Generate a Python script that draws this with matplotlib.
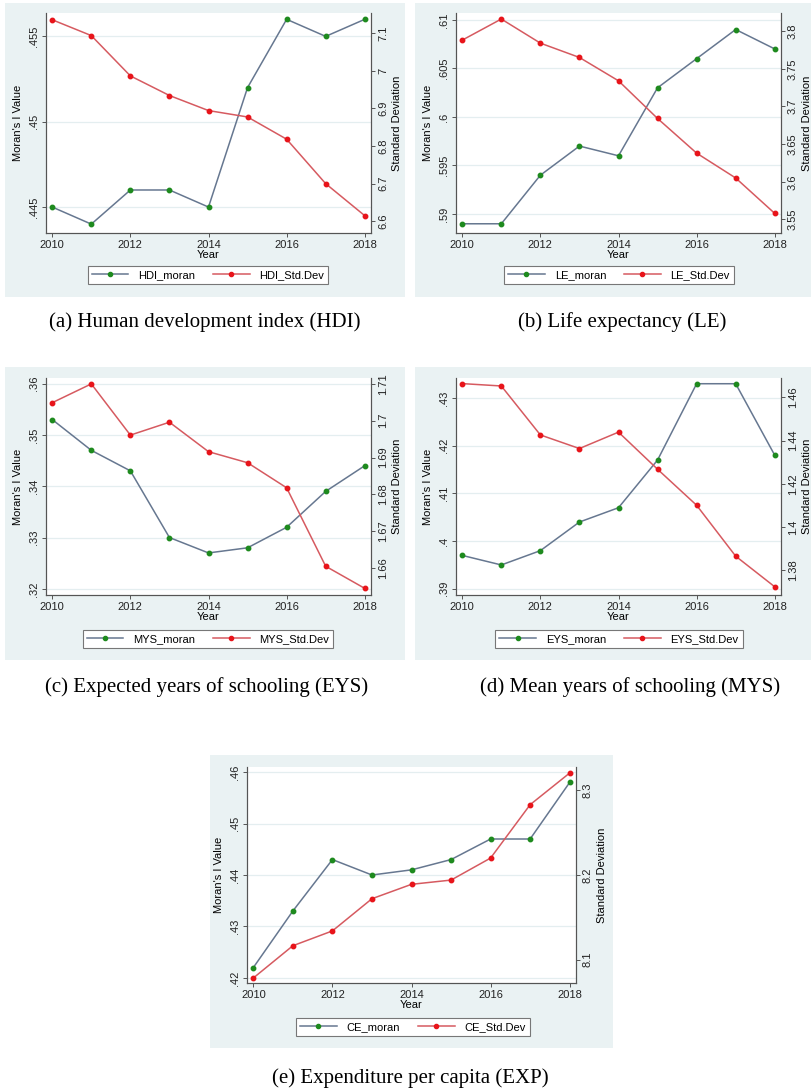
import matplotlib
matplotlib.use('Agg')
import matplotlib.pyplot as plt
from matplotlib.patches import Rectangle
from matplotlib.lines import Line2D

W, H = 812, 1092

years = [2010, 2011, 2012, 2013, 2014, 2015, 2016, 2017, 2018]
x_ticks = [2010, 2012, 2014, 2016, 2018]

hdi_moran = [.445, .444, .446, .446, .445, .452, .456, .455, .456]
hdi_sd = [7.135, 7.093, 6.986, 6.934, 6.894, 6.877, 6.818, 6.700, 6.615]
le_moran = [.589, .589, .594, .597, .596, .603, .606, .609, .607]
le_sd = [3.788, 3.816, 3.784, 3.765, 3.734, 3.684, 3.638, 3.605, 3.558]
mys_moran = [.353, .347, .343, .330, .327, .328, .332, .339, .344]
mys_sd = [1.7049, 1.7100, 1.6961, 1.6996, 1.6916, 1.6886, 1.6818, 1.6605, 1.6545]
eys_moran = [.397, .395, .398, .404, .407, .417, .433, .433, .418]
eys_sd = [1.4664, 1.4653, 1.4426, 1.4363, 1.4439, 1.4267, 1.4100, 1.3864, 1.3722]
ce_moran = [.422, .433, .443, .440, .441, .443, .447, .447, .458]
ce_sd = [8.0784, 8.1165, 8.134, 8.172, 8.189, 8.194, 8.220, 8.283, 8.3204]

# left / right tick values and labels (Stata style, no leading zero)
hdi_lt = [.445, .45, .455]
hdi_ll = ['.445', '.45', '.455']
hdi_rt = [6.6, 6.7, 6.8, 6.9, 7.0, 7.1]
hdi_rl = ['6.6', '6.7', '6.8', '6.9', '7', '7.1']
le_lt = [.59, .595, .6, .605, .61]
le_ll = ['.59', '.595', '.6', '.605', '.61']
le_rt = [3.55, 3.6, 3.65, 3.7, 3.75, 3.8]
le_rl = ['3.55', '3.6', '3.65', '3.7', '3.75', '3.8']
mys_lt = [.32, .33, .34, .35, .36]
mys_ll = ['.32', '.33', '.34', '.35', '.36']
mys_rt = [1.66, 1.67, 1.68, 1.69, 1.70, 1.71]
mys_rl = ['1.66', '1.67', '1.68', '1.69', '1.7', '1.71']
eys_lt = [.39, .40, .41, .42, .43]
eys_ll = ['.39', '.4', '.41', '.42', '.43']
eys_rt = [1.38, 1.40, 1.42, 1.44, 1.46]
eys_rl = ['1.38', '1.4', '1.42', '1.44', '1.46']
ce_lt = [.42, .43, .44, .45, .46]
ce_ll = ['.42', '.43', '.44', '.45', '.46']
ce_rt = [8.1, 8.2, 8.3]
ce_rl = ['8.1', '8.2', '8.3']

BG = '#eaf2f3'
LINE_M = '#667790'
LINE_S = '#d65a60'
MK_M = '#1e8a1e'
MK_S = '#e8141a'
AXC = '#555555'

plt.rcParams['font.family'] = ['Liberation Sans', 'DejaVu Sans']

fig = plt.figure(figsize=(W / 100, H / 100), dpi=100)


def fx(x):
    return x / W


def fy(y):
    return 1 - y / H


def panel(bg, plot, leg_cx, m, s, lyl, ryl, lt, ll, rt, rl, names, caption, cap_xy):
    bx0, by0, bx1, by1 = bg
    fig.patches.append(Rectangle((fx(bx0), fy(by1)), (bx1 - bx0) / W, (by1 - by0) / H,
                                 transform=fig.transFigure, facecolor=BG, edgecolor='none', zorder=-5))
    px0, py0, px1, py1 = plot
    ax = fig.add_axes([fx(px0), fy(py1), (px1 - px0) / W, (py1 - py0) / H])
    ax.set_facecolor('white')
    ax2 = ax.twinx()
    ax.plot(years, m, color=LINE_M, lw=1.1, marker='o', ms=3.2,
            mfc=MK_M, mec=MK_M, zorder=3)
    ax2.plot(years, s, color=LINE_S, lw=1.1, marker='o', ms=3.2,
             mfc=MK_S, mec=MK_S, zorder=3)
    ax.set_xlim(2009.84, 2018.16)
    ax.set_ylim(*lyl)
    ax2.set_ylim(*ryl)
    ax.set_xticks(x_ticks)
    ax.set_yticks(lt)
    ax.set_yticklabels(ll, rotation=90, va='center')
    ax2.set_yticks(rt)
    ax2.set_yticklabels(rl, rotation=90, va='center')
    ax.grid(axis='y', color='#e4eef0', lw=0.9)
    ax.set_axisbelow(True)
    for a in (ax, ax2):
        a.spines['top'].set_visible(False)
        for sp in ('left', 'right', 'bottom'):
            a.spines[sp].set_color(AXC)
            a.spines[sp].set_linewidth(0.8)
        a.tick_params(labelsize=8, colors='#222222', length=3, width=0.7, pad=2)
        a.tick_params(axis='both', color=AXC)
    ax.set_xlabel('Year', fontsize=8, labelpad=0)
    ax.set_ylabel("Moran's I Value", fontsize=8, labelpad=4)
    ax2.set_ylabel('Standard Deviation', fontsize=8, labelpad=3)
    h1 = Line2D([], [], color=LINE_M, lw=1.1, marker='o', ms=3, mfc=MK_M, mec=MK_M)
    h2 = Line2D([], [], color=LINE_S, lw=1.1, marker='o', ms=3, mfc=MK_S, mec=MK_S)
    leg = fig.legend([h1, h2], names, loc='center', ncol=2,
                     bbox_to_anchor=(fx(leg_cx), fy(bg[1] + 272)),
                     fontsize=8, frameon=True, fancybox=False, edgecolor='#777777',
                     facecolor='white', framealpha=1,
                     handlelength=3.3, columnspacing=1.6, handletextpad=0.9,
                     borderpad=0.35, markerscale=1.0)
    leg.get_frame().set_linewidth(0.8)
    fig.text(fx(cap_xy[0]), fy(cap_xy[1]), caption, ha='center', va='center',
             family='Liberation Serif', fontsize=15)


panel((5, 3, 405, 297), (46, 13, 371, 233), 208, hdi_moran, hdi_sd,
      (.44348, .45637), (6.569, 7.153), hdi_lt, hdi_ll, hdi_rt, hdi_rl,
      ['HDI_moran', 'HDI_Std.Dev'], '(a) Human development index (HDI)', (205, 322))
panel((415, 3, 812, 297), (456, 13, 781, 233), 619, le_moran, le_sd,
      (.58805, .6107), (3.532, 3.824), le_lt, le_ll, le_rt, le_rl,
      ['LE_moran', 'LE_Std.Dev'], '(b) Life expectancy (LE)', (622, 322))
panel((5, 367, 405, 660), (46, 378, 371, 595), 208, mys_moran, mys_sd,
      (.3188, .3611), (1.6527, 1.7116), mys_lt, mys_ll, mys_rt, mys_rl,
      ['MYS_moran', 'MYS_Std.Dev'], '(c) Expected years of schooling (EYS)', (207, 687))
panel((415, 367, 812, 660), (456, 378, 781, 595), 619, eys_moran, eys_sd,
      (.3887, .4342), (1.3684, 1.469), eys_lt, eys_ll, eys_rt, eys_rl,
      ['EYS_moran', 'EYS_Std.Dev'], '(d) Mean years of schooling (MYS)', (630, 687))
panel((210, 755, 613, 1048), (247, 767, 576, 983), 413, ce_moran, ce_sd,
      (.419, .461), (8.0725, 8.3275), ce_lt, ce_ll, ce_rt, ce_rl,
      ['CE_moran', 'CE_Std.Dev'], '(e) Expenditure per capita (EXP)', (410, 1078))

plt.savefig('out.png', dpi=100)
